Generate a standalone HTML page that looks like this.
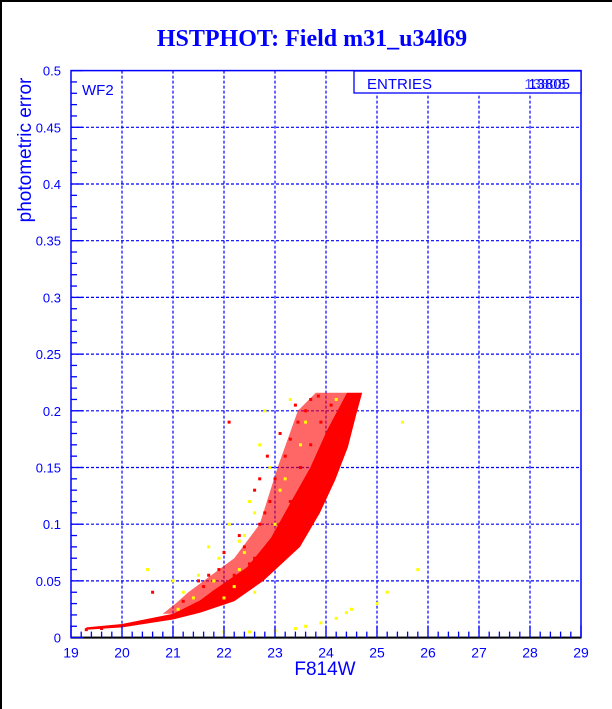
<!DOCTYPE html>
<html><head><meta charset="utf-8"><style>
html,body{margin:0;padding:0;background:#fff;}
svg{display:block;}
</style></head><body>
<svg id="chart" width="612" height="709" xmlns="http://www.w3.org/2000/svg" font-family="Liberation Sans, sans-serif">
<rect x="0" y="0" width="612" height="709" fill="#fff"/>
<line x1="1" y1="0" x2="1" y2="709" stroke="#000" stroke-width="2"/>
<line x1="0" y1="1" x2="612" y2="1" stroke="#000" stroke-width="2"/>
<text x="312" y="46" text-anchor="middle" font-family="Liberation Serif, serif" font-weight="bold" font-size="24" fill="#0000ff">HSTPHOT: Field m31_u34l69</text>
<text transform="translate(31,150) rotate(-90)" text-anchor="middle" font-size="19" fill="#0000ff">photometric error</text>
<text x="325" y="675" text-anchor="middle" font-size="19" fill="#0000ff">F814W</text>
<g id="grid"></g>
<g id="marks"></g>
<g id="axes"></g>
<text x="82" y="95" font-size="15" fill="#0000ff">WF2</text>
<g>
<rect x="354" y="71" width="227" height="22" fill="#fff" stroke="#0000ff" stroke-width="1.3"/>
<text x="367" y="89" font-size="15" fill="#0000ff">ENTRIES</text>
<text x="570" y="89" text-anchor="end" font-size="15" fill="#0000ff">13805</text>
<text x="566" y="89" text-anchor="end" font-size="15" fill="#0000ff" opacity="0.7">13808</text>
</g>
</svg>
<script>
const xTicks=[19,20,21,22,23,24,25,26,27,28,29];
const yTicks=[0,0.05,0.1,0.15,0.2,0.25,0.3,0.35,0.4,0.45,0.5];
const yTickLabels=["0","0.05","0.1","0.15","0.2","0.25","0.3","0.35","0.4","0.45","0.5"];
const bandLower=[[19.3,0.007],[20,0.009],[21,0.016],[21.53,0.022],[22.2,0.032],[22.77,0.05],[23.49,0.08],[23.88,0.11],[24.18,0.139],[24.43,0.168],[24.6,0.198],[24.71,0.216]];
const bandUpper=[[24.71,0.216],[24.41,0.216],[24.02,0.183],[23.69,0.15],[23.29,0.118],[22.92,0.088],[22.45,0.062],[21.8,0.042],[21.53,0.033],[21.0,0.021],[20.0,0.012],[19.3,0.009]];
const sparseEdge=[[24.3,0.216],[23.8,0.216],[23.45,0.2],[23.05,0.15],[22.7,0.1],[22.2,0.07],[21.9,0.06],[21.3,0.04],[21.05,0.03],[20.8,0.021]];
const redPts=[[19.3,0.007],[19.6,0.008],[20.6,0.04],[21.2,0.032],[21.6,0.045],[21.9,0.06],[22.1,0.19],[22.4,0.08],[22.7,0.1],[22.9,0.12],[23.0,0.14],[23.2,0.16],[23.3,0.175],[23.45,0.19],[23.6,0.2],[23.7,0.21],[23.85,0.213],[23.5,0.15],[23.3,0.12],[22.6,0.07],[22.2,0.055],[21.8,0.04],[23.1,0.1],[23.7,0.17],[23.9,0.19],[24.1,0.205],[22.95,0.085],[22.5,0.065],[21.4,0.028],[22.8,0.11],[22.3,0.09],[22.6,0.13],[22.85,0.16],[23.1,0.18],[23.4,0.205],[21.5,0.05],[21.7,0.055],[22.0,0.075],[22.7,0.14]];
const yellowPts=[[20.5,0.06],[21.0,0.05],[21.5,0.055],[21.9,0.07],[22.3,0.06],[22.4,0.09],[22.5,0.12],[22.7,0.17],[22.8,0.2],[22.9,0.15],[23.1,0.13],[23.3,0.21],[22.0,0.035],[22.6,0.04],[21.2,0.04],[21.7,0.08],[22.1,0.1],[22.0,0.005],[22.5,0.005],[23.0,0.006],[23.4,0.008],[23.6,0.01],[23.9,0.013],[24.2,0.017],[24.4,0.022],[24.5,0.025],[25.0,0.03],[25.2,0.04],[25.8,0.06],[25.5,0.19],[22.3,0.085],[23.6,0.19],[24.2,0.21],[23.0,0.1],[21.1,0.025],[21.4,0.035],[21.8,0.05],[22.2,0.045],[22.6,0.11],[23.2,0.14],[23.5,0.17],[22.4,0.075]];
const X0=71,X1=581,Y0=637.6,Y1=70.6;
function xs(v){return X0+(v-19)/(29-19)*(X1-X0);}
function ys(v){return Y0-(v-0)/(0.5-0)*(Y0-Y1);}
const NS="http://www.w3.org/2000/svg";
function mk(tag,attrs,parent){const e=document.createElementNS(NS,tag);for(const k in attrs)e.setAttribute(k,attrs[k]);parent.appendChild(e);return e;}
const grid=document.getElementById('grid'),axes=document.getElementById('axes'),marks=document.getElementById('marks');
xTicks.forEach((t,i)=>{if(i>0&&i<xTicks.length-1){const l=mk('line',{x1:xs(t),x2:xs(t),y1:Y1,y2:Y0,stroke:'#0000ff','stroke-dasharray':'3,2','stroke-width':1.2},grid);}});
yTicks.forEach((t,i)=>{if(i>0&&i<yTicks.length-1){const l=mk('line',{x1:X0,x2:X1,y1:ys(t),y2:ys(t),stroke:'#0000ff','stroke-dasharray':'3,2','stroke-width':1.2},grid);}});
function poly(pts){let d='';pts.forEach((p,i)=>{d+=(i?'L':'M')+xs(p[0]).toFixed(1)+','+ys(p[1]).toFixed(1);});return d+'Z';}
const sp=mk('path',{d:poly(bandUpper.slice(0,10).concat(sparseEdge.slice().reverse())),fill:'#ff0000',opacity:0.6},marks);


const band=mk('path',{d:poly(bandLower.concat(bandUpper)),fill:'#ff0000'},marks);


redPts.forEach(p=>{const r=mk('rect',{x:xs(p[0])-1.5,y:ys(p[1])-1.5,width:3,height:3,fill:'#ff0000'},marks);});
yellowPts.forEach(p=>{const r=mk('rect',{x:xs(p[0])-1.5,y:ys(p[1])-1.5,width:3,height:3,fill:'#ffff00'},marks);});
const fr=mk('rect',{x:X0,y:Y1,width:X1-X0,height:Y0-Y1,fill:'none',stroke:'#0000ff','stroke-width':1.5},axes);


mk('line',{x1:X0,x2:X1,y1:Y0,y2:Y0,stroke:'#000','stroke-width':2},axes);
for(let v=19;v<=29.001;v+=0.2){const major=Math.abs(v-Math.round(v))<1e-6;mk('line',{x1:xs(v),x2:xs(v),y1:Y0,y2:Y0-(major?12:6),stroke:'#0000ff','stroke-width':1.3},axes);}
xTicks.forEach(t=>{const tx=mk('text',{x:xs(t),y:Y0+20,'text-anchor':'middle','font-size':14,fill:'#0000ff'},axes);tx.textContent=t;});
for(let v=0;v<=0.5001;v+=0.01){const major=Math.abs(v/0.05-Math.round(v/0.05))<1e-6;mk('line',{x1:X0,x2:X0+(major?12:6),y1:ys(v),y2:ys(v),stroke:'#0000ff','stroke-width':1.3},axes);}
yTicks.forEach((t,i)=>{const tx=mk('text',{x:X0-10,y:ys(t)+5,'text-anchor':'end','font-size':13,fill:'#0000ff'},axes);tx.textContent=yTickLabels[i];});
</script>
</body></html>
